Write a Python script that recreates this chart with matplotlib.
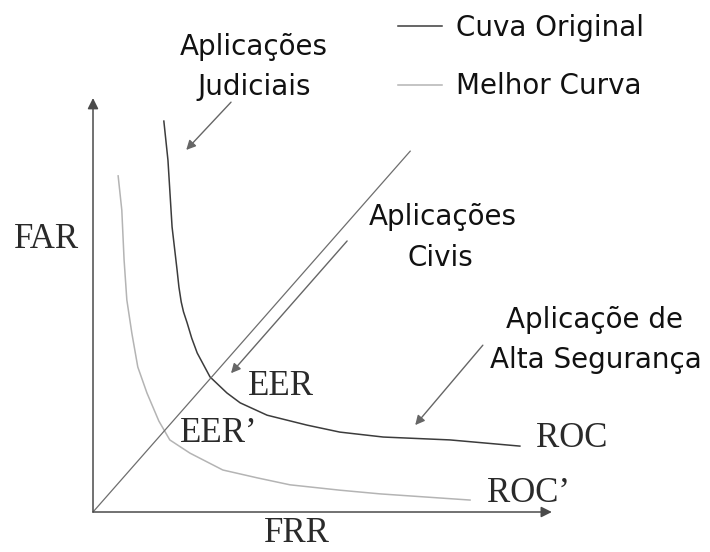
import matplotlib
matplotlib.use("Agg")
import matplotlib.pyplot as plt

# ROC of the original system (FRR, FAR in arbitrary percent units)
roc_frr = [15.5, 16.4, 17.3, 18.4, 18.8, 19.3, 19.8, 20.6, 21.6, 22.8, 25.6, 29.3,
           32.2, 38.1, 46.8, 54.0, 63.5, 78.1, 93.4]
roc_far = [94.9, 85.4, 69.2, 58.7, 54.6, 51.0, 48.6, 45.9, 42.2, 38.6, 32.8, 28.9,
           26.5, 23.5, 21.1, 19.4, 18.2, 17.5, 16.0]

# ROC of the improved system
roc2_frr = [5.5, 6.3, 6.8, 7.4, 8.5, 9.8, 11.8, 14.4, 16.8, 21.2, 28.4, 35.9,
            43.1, 54.0, 62.8, 82.5]
roc2_far = [81.6, 73.3, 61.2, 51.5, 43.4, 35.2, 28.9, 22.1, 17.5, 14.3, 10.2, 8.3,
            6.6, 5.3, 4.4, 2.9]

# FAR = FRR operating line (drawn on the stretched schematic axes)
eer_frr = [0.0, 69.4]
eer_far = [0.0, 87.6]

series_labels = ["Cuva Original", "Melhor Curva"]

fig = plt.figure(figsize=(7.10, 5.52), dpi=100)
ax = fig.add_axes([0, 0, 1, 1])
ax.set_xlim(-20.35, 135.0)
ax.set_ylim(-9.71, 124.3)
ax.axis("off")

dark = "#3c3c3c"
light = "#b4b4b4"
mid = "#6e6e6e"

l1, = ax.plot(roc_frr, roc_far, color=dark, lw=1.1, solid_joinstyle="round")
l2, = ax.plot(roc2_frr, roc2_far, color=light, lw=1.1, solid_joinstyle="round")
ax.plot(eer_frr, eer_far, color=mid, lw=0.9)

# axes with arrow heads
axis_style = dict(arrowstyle="-|>", color="#4a4a4a", lw=1.1, mutation_scale=16,
                  shrinkA=0, shrinkB=0)
ax.annotate("", xy=(100.4, 0), xytext=(0, 0), arrowprops=axis_style)
ax.annotate("", xy=(0, 100.5), xytext=(0, 0), arrowprops=axis_style)

leg = ax.legend([l1, l2], series_labels, loc="center left",
                bbox_to_anchor=(398 / 710, 1 - 57 / 552), frameon=False,
                borderpad=0, borderaxespad=0, handlelength=1.6, handletextpad=0.5,
                labelspacing=1.1, prop=dict(family="DejaVu Sans", size=20))
for t in leg.get_texts():
    t.set_color("#111111")

sans = dict(family="DejaVu Sans", fontsize=20, color="#111111")
serif = dict(family="Liberation Serif", fontsize=25, color="#2a2a2a")

ax.text(35.2, 110.9, "Aplicações", ha="center", va="baseline", **sans)
ax.text(35.2, 101.2, "Judiciais", ha="center", va="baseline", **sans)
ax.text(76.6, 69.7, "Aplicações", ha="center", va="baseline", **sans)
ax.text(75.9, 59.7, "Civis", ha="center", va="baseline", **sans)
ax.text(109.8, 44.6, "Aplicaçõe de", ha="center", va="baseline", **sans)
ax.text(110.0, 35.0, "Alta Segurança", ha="center", va="baseline", **sans)

ax.text(-10.1, 64.1, "FAR", ha="center", va="baseline", **serif)
ax.text(44.6, -7.4, "FRR", ha="center", va="baseline", **serif)
ax.text(33.9, 28.4, "EER", ha="left", va="baseline", **serif)
ax.text(19.0, 17.0, "EER’", ha="left", va="baseline", **serif)
ax.text(96.9, 15.8, "ROC", ha="left", va="baseline", **serif)
ax.text(86.2, 2.4, "ROC’", ha="left", va="baseline", **serif)

# pointers to the application regions
ptr = dict(arrowstyle="-|>", color="#666666", lw=1.0, mutation_scale=14,
           shrinkA=0, shrinkB=0)
ax.annotate("", xy=(20.4, 87.9), xytext=(30.2, 99.5), arrowprops=ptr)
ax.annotate("", xy=(30.2, 33.7), xytext=(55.6, 65.8), arrowprops=ptr)
ax.annotate("", xy=(70.5, 21.1), xytext=(85.3, 40.5), arrowprops=ptr)

fig.savefig("out.png", dpi=100, facecolor="white")
